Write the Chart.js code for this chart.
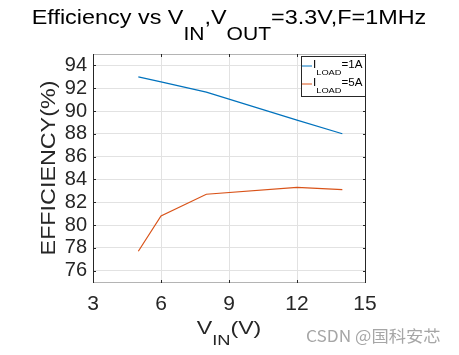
<!DOCTYPE html>
<html>
<head>
<meta charset="utf-8">
<script src="https://cdn.jsdelivr.net/npm/chart.js@4"></script>
<style>
html,body{margin:0;padding:0;background:#fff;}
#wrap{position:relative;width:459px;height:355px;}
</style>
</head>
<body>
<div id="wrap"><canvas id="c" width="459" height="355"></canvas></div>
<script>
// ---- data ----
const vin = [5, 6, 8, 12, 14];
const eff1A = [93.0, 92.55, 91.65, 89.2, 88.0];
const eff5A = [77.7, 80.8, 82.7, 83.3, 83.1];
const xTicks = [3, 6, 9, 12, 15];
const yTicks = [76, 78, 80, 82, 84, 86, 88, 90, 92, 94];
const seriesNames = [["I", "LOAD", "=1A"], ["I", "LOAD", "=5A"]];
const titleParts = [["Efficiency vs V", 0], ["IN", 1], [",V", 0], ["OUT", 1], ["=3.3V,F=1MHz", 0]];
const xLabelParts = [["V", 0], ["IN", 1], ["(V)", 0]];
const yLabel = "EFFICIENCY(%)";
const watermark = "CSDN @国科安芯";
const colors = ["#0072BD", "#D95319"];

const FONT = "'Liberation Sans', Arial, sans-serif";

function richWidth(ctx, parts, main, sub) {
  let w = 0;
  for (const [t, s] of parts) {
    ctx.font = (s ? sub : main) + "px " + FONT;
    w += ctx.measureText(t).width;
  }
  return w;
}
function drawRich(ctx, parts, x, y, main, sub, off, align, sx) {
  const w = richWidth(ctx, parts, main, sub) * sx;
  const x0 = align === "center" ? x - w / 2 : x;
  ctx.save();
  ctx.translate(x0, y);
  ctx.scale(sx, 1);
  ctx.textBaseline = "alphabetic";
  ctx.textAlign = "left";
  let cx = 0;
  for (const [t, s] of parts) {
    ctx.font = (s ? sub : main) + "px " + FONT;
    ctx.fillText(t, cx, s ? off : 0);
    cx += ctx.measureText(t).width;
  }
  ctx.restore();
}

const decor = {
  id: "decor",
  afterDraw(chart) {
    const ctx = chart.ctx;
    const a = chart.chartArea;
    const xs = chart.scales.x, ys = chart.scales.y;
    ctx.save();
    // box: top/bottom gray, left/right dark
    ctx.lineWidth = 1;
    ctx.strokeStyle = "#b4b4b4";
    ctx.beginPath();
    ctx.moveTo(a.left, Math.round(a.top) + 0.5); ctx.lineTo(a.right, Math.round(a.top) + 0.5);
    ctx.moveTo(a.left, Math.round(a.bottom) + 0.5); ctx.lineTo(a.right, Math.round(a.bottom) + 0.5);
    ctx.stroke();
    ctx.strokeStyle = "#262626";
    ctx.beginPath();
    ctx.moveTo(Math.round(a.left) + 0.5, a.top); ctx.lineTo(Math.round(a.left) + 0.5, a.bottom + 1);
    ctx.moveTo(Math.round(a.right) + 0.5, a.top); ctx.lineTo(Math.round(a.right) + 0.5, a.bottom + 1);
    // ticks inward
    const tl = 3;
    for (const v of xTicks) {
      const px = Math.round(xs.getPixelForValue(v)) + 0.5;
      ctx.moveTo(px, a.top); ctx.lineTo(px, a.top + tl);
      ctx.moveTo(px, a.bottom + 1); ctx.lineTo(px, a.bottom + 1 - tl);
    }
    for (const v of yTicks) {
      const py = Math.round(ys.getPixelForValue(v)) + 0.5;
      ctx.moveTo(a.left, py); ctx.lineTo(a.left + tl, py);
      ctx.moveTo(a.right + 1, py); ctx.lineTo(a.right + 1 - tl, py);
    }
    ctx.stroke();

    // legend
    const lx = a.right - 64, ly = a.top + 2, lw = 64, lh = 40;
    ctx.fillStyle = "#fff";
    ctx.fillRect(lx, ly, lw, lh);
    ctx.strokeStyle = "#262626";
    ctx.strokeRect(Math.round(lx) + 0.5, Math.round(ly) + 0.5, lw, lh);
    seriesNames.forEach((nm, i) => {
      const yy = ly + 10 + i * 18;
      ctx.strokeStyle = colors[i];
      ctx.lineWidth = 1;
      ctx.beginPath();
      ctx.moveTo(lx + 1, yy); ctx.lineTo(lx + 11, yy);
      ctx.stroke();
      ctx.fillStyle = "#000";
      drawRich(ctx, [[nm[0], 0], [nm[1], 1], [nm[2], 0]], lx + 12, yy + 2, 10, 8, 7, "left", 1.16);
    });

    // title
    ctx.fillStyle = "#000";
    drawRich(ctx, titleParts, (a.left + a.right) / 2, 23.5, 20, 18, 16.5, "center", 1.17);
    // x label
    ctx.fillStyle = "#262626";
    drawRich(ctx, xLabelParts, (a.left + a.right) / 2, 333.5, 19, 15, 11, "center", 1.22);
    // y label
    ctx.save();
    ctx.translate(55, (a.top + a.bottom) / 2);
    ctx.rotate(-Math.PI / 2);
    ctx.scale(1.11, 1);
    ctx.font = "21px " + FONT;
    ctx.textAlign = "center";
    ctx.textBaseline = "alphabetic";
    ctx.fillText(yLabel, 0, 0);
    ctx.restore();
    // watermark
    ctx.save();
    ctx.fillStyle = "#a6a6a6";
    ctx.font = "16px 'Noto Sans CJK SC', 'Liberation Sans', sans-serif";
    ctx.textAlign = "left";
    ctx.textBaseline = "alphabetic";
    ctx.translate(306, 342);
    ctx.scale(1.08, 1);
    ctx.fillText(watermark, 0, 0);
    ctx.restore();
    ctx.restore();
  }
};

new Chart(document.getElementById("c"), {
  type: "line",
  data: {
    datasets: [
      { label: "I_LOAD=1A", data: vin.map((x, i) => ({ x, y: eff1A[i] })), borderColor: colors[0], borderWidth: 1.2, pointRadius: 0, tension: 0, fill: false },
      { label: "I_LOAD=5A", data: vin.map((x, i) => ({ x, y: eff5A[i] })), borderColor: colors[1], borderWidth: 1.2, pointRadius: 0, tension: 0, fill: false }
    ]
  },
  options: {
    responsive: false,
    animation: false,
    layout: { padding: { top: 54, right: 94, left: 0, bottom: 0 } },
    plugins: { legend: { display: false }, title: { display: false }, tooltip: { enabled: false } },
    scales: {
      x: {
        type: "linear", min: 3, max: 15,
        afterBuildTicks: s => { s.ticks = xTicks.map(v => ({ value: v })); },
        afterFit: s => { s.height = 73; },
        grid: { color: "#e2e2e2", drawTicks: false, lineWidth: 1 },
        border: { display: false },
        ticks: { color: "#262626", font: { family: FONT, size: 21 }, padding: 10, maxRotation: 0, autoSkip: false }
      },
      y: {
        type: "linear", min: 75, max: 95,
        afterBuildTicks: s => { s.ticks = yTicks.map(v => ({ value: v })); },
        afterFit: s => { s.width = 93; },
        grid: { color: "#e2e2e2", drawTicks: false, lineWidth: 1 },
        border: { display: false },
        ticks: { color: "#262626", font: { family: FONT, size: 20 }, padding: 6, autoSkip: false }
      }
    }
  },
  plugins: [decor]
});
</script>
</body>
</html>
